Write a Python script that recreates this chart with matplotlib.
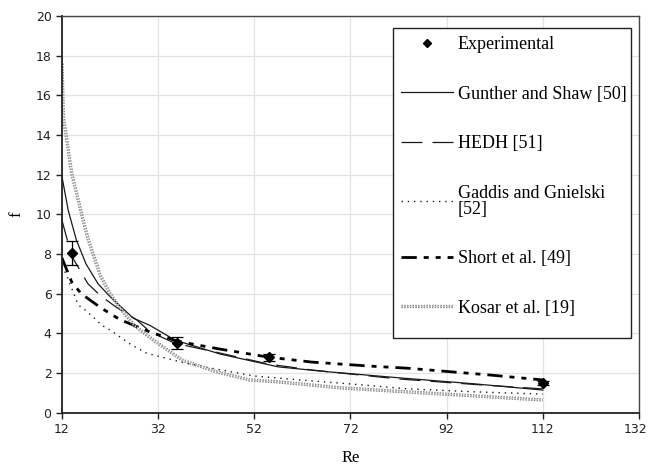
import matplotlib
matplotlib.use('Agg')
from matplotlib import pyplot as plt
from matplotlib.lines import Line2D
from matplotlib.patches import Rectangle
from matplotlib.transforms import ScaledTranslation
import matplotlib.patheffects as pe

# experimental points with error bars
exp_re = [14, 36, 55, 112]
exp_f = [8.04, 3.53, 2.79, 1.51]
exp_err = [0.6, 0.3, 0.17, 0.1]

# Gunther and Shaw [50]
gs_re = [12, 13.3, 15, 17, 19.5, 22, 26.8, 30.3, 35.5, 45, 57, 67, 82, 98, 112]
gs_f = [11.9, 10.2, 8.7, 7.5, 6.5, 5.85, 4.77, 4.4, 3.66, 2.95, 2.31, 2.07, 1.76, 1.45, 1.14]

# HEDH [51]
hedh_re = [12, 14, 17.4, 20, 23.4, 27.6, 30.3, 35.5, 45, 55, 64, 82, 98, 112]
hedh_f = [9.7, 7.9, 6.5, 5.9, 5.3, 4.67, 4.08, 3.5, 3.0, 2.45, 2.15, 1.7, 1.42, 1.2]

# Gaddis and Gnielski [52]
gg_re = [12, 13, 15.4, 16.8, 18.5, 20.2, 22, 24, 26.5, 29.6, 35, 38, 41.3, 52, 64, 72, 84, 98, 112]
gg_f = [7.4, 6.9, 5.43, 5.18, 4.82, 4.42, 4.17, 3.83, 3.41, 3.0, 2.66, 2.49, 2.32, 1.85, 1.6, 1.45, 1.2, 1.05, 0.94]

# Short et al. [49]
short_re = [12, 14, 16, 20, 24, 30, 36, 45, 55, 64, 76, 84, 93, 101, 112]
short_f = [7.8, 6.6, 6.0, 5.3, 4.7, 4.1, 3.6, 3.2, 2.8, 2.55, 2.35, 2.24, 2.06, 1.9, 1.65]

# Kosar et al. [19]
kosar_re = [12, 12.3, 14, 16.4, 17.5, 20, 22, 24, 27, 31, 37, 44, 51, 56.7, 70, 83, 112]
kosar_f = [17.6, 14.9, 12.1, 9.7, 8.7, 6.9, 6.0, 5.3, 4.4, 3.66, 2.65, 2.07, 1.65, 1.56, 1.25, 1.06, 0.64]

xticks = [12, 32, 52, 72, 92, 112, 132]
yticks = [0, 2, 4, 6, 8, 10, 12, 14, 16, 18, 20]

fig = plt.figure(figsize=(6.49, 4.71), dpi=100)
ax = fig.add_axes([0.0955, 0.1238, 0.889, 0.8422])

ax.plot(gs_re, gs_f, '-', color='#1a1a1a', lw=0.9, label='Gunther and Shaw [50]')
ax.plot(hedh_re, hedh_f, color='#1a1a1a', lw=0.9, linestyle=(0, (16.8, 8)), label='HEDH [51]')
ax.plot(gg_re, gg_f, color='#1a1a1a', lw=1.0, linestyle=(0, (1, 3.5)), label='Gaddis and Gnielski\n[52]')
ax.plot(short_re, short_f, color='black', lw=2.0, linestyle=(0, (5.5, 2.5, 1.8, 2.5, 1.8, 2.5)),
        label='Short et al. [49]')
ax.plot(kosar_re, kosar_f, color='#c4c4c4', lw=1.0, linestyle=(0, (1, 1)),
        path_effects=[pe.Stroke(linewidth=2.4, foreground='#7a7a7a'), pe.Normal()],
        label='Kosar et al. [19]')

ax.errorbar(exp_re, exp_f, yerr=exp_err, fmt='D', color='black', ms=5, lw=0.9,
            capsize=4, capthick=0.9, zorder=5)

ax.set_xlim(12, 132)
ax.set_ylim(0, 20)
ax.set_xticks(xticks)
ax.set_yticks(yticks)
ax.grid(True, color='#e3e3e3', lw=0.9)
ax.set_axisbelow(True)
ax.tick_params(direction='out', length=4, width=1, labelsize=9, colors='#222222')
for side in ['left', 'bottom']:
    ax.spines[side].set_linewidth(1.3)
    ax.spines[side].set_color('#222222')
for side in ['top', 'right']:
    ax.spines[side].set_linewidth(1.0)
    ax.spines[side].set_color('#444444')

# nudge the last x tick label so it stays inside the picture
last = ax.get_xticklabels()[-1]
last.set_transform(last.get_transform() + ScaledTranslation(-3 / 100, 0, fig.dpi_scale_trans))

ax.set_xlabel('Re', family='Liberation Serif', fontsize=12, labelpad=10)
ax.set_ylabel('f', family='Liberation Serif', fontsize=12, labelpad=8)

# legend box drawn separately so the empty space below the last entry matches
box = Rectangle((0.5737, 0.1876), 0.4125, 0.7822, transform=ax.transAxes,
                facecolor='white', edgecolor='#222222', lw=1.0, zorder=6)
ax.add_patch(box)

handles, labels = ax.get_legend_handles_labels()
exp_handle = Line2D([], [], marker='D', color='black', ms=4, linestyle='none')
handles = [exp_handle] + handles
labels = ['Experimental'] + labels
leg = ax.legend(handles, labels, loc='upper left', bbox_to_anchor=(0.5737, 0.9698),
                prop={'family': 'Liberation Serif', 'size': 13}, frameon=False,
                handlelength=2.9, handletextpad=0.25,
                labelspacing=1.8, borderpad=0.45, borderaxespad=0)
leg.get_texts()[3].set_linespacing(0.92)
leg.set_zorder(7)

plt.savefig('out.png', dpi=100)
